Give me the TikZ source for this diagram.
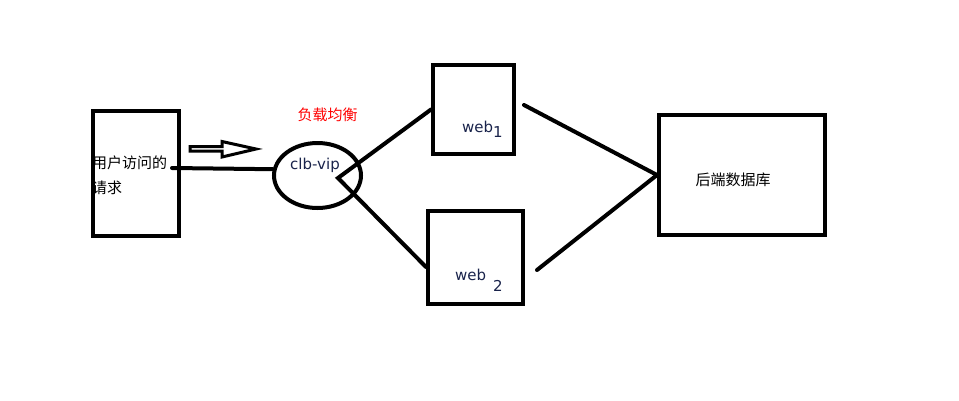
\documentclass[tikz,border=0pt]{standalone}
\usepackage{fontspec}
\setmainfont{DejaVu Sans}
\newfontfamily\cjk{Noto Sans CJK SC}
\usetikzlibrary{positioning,shapes.geometric}
\definecolor{inktext}{RGB}{25,35,75}

\begin{document}
\begin{tikzpicture}[
  x=1pt, y=-1pt,
  box/.style={draw, line width=4pt, inner sep=0pt},
  wire/.style={line width=4pt, line cap=round},
  lab/.style={font=\fontsize{15}{18}\selectfont, text=inktext, inner sep=0pt},
  zh/.style={font=\fontsize{15}{25}\cjk, inner sep=0pt, align=left}
]
\useasboundingbox (0,0) rectangle (959,400);
\node[zh, anchor=west] (usertext) at (92,175.5) {用户访问的\\请求};
\node[box, minimum width=86, minimum height=125] (user) at (136,173.5) {};
\node[draw, ellipse, line width=4pt, minimum width=87, minimum height=65, inner sep=0pt] (vip) at (317.5,175.5) {};
\node[lab] (viptext) at (315,165) {clb-vip};
\node[zh, text=red] (balance) at (327.5,115) {负载均衡};
\node[box, minimum width=81, minimum height=89] (web1) at (473.5,109.5) {};
\node[lab, anchor=west] (web1text) at (462,129) {web\raisebox{-5pt}{1}};
\node[box, minimum width=95, minimum height=93] (web2) at (475.5,257.5) {};
\node[lab, anchor=west] (web2text) at (455,280) {web\hspace{7pt}\raisebox{-11pt}{2}};
\node[box, minimum width=166, minimum height=120] (db) at (742,175) {};
\node[zh] (dbtext) at (733,180) {后端数据库};
\coordinate (src) at (172,168);
\coordinate (fork) at (338,178);
% request flow
\draw[line width=3pt] (190,146.5) -- (222,146.5) -- (222,141.5) -- (256,149)
  -- (222,157) -- (222,151) -- (190,151) -- cycle;
\draw[wire] (src) -- (vip.172);
\draw[wire] (web1.west) -- (fork) -- ([yshift=-9.5pt]web2.west);
\draw[wire] ([xshift=8pt,yshift=4.5pt]web1.east) -- (db.west);
\draw[wire] ([xshift=12pt,yshift=-12.5pt]web2.east) -- (db.west);
\end{tikzpicture}
\end{document}
